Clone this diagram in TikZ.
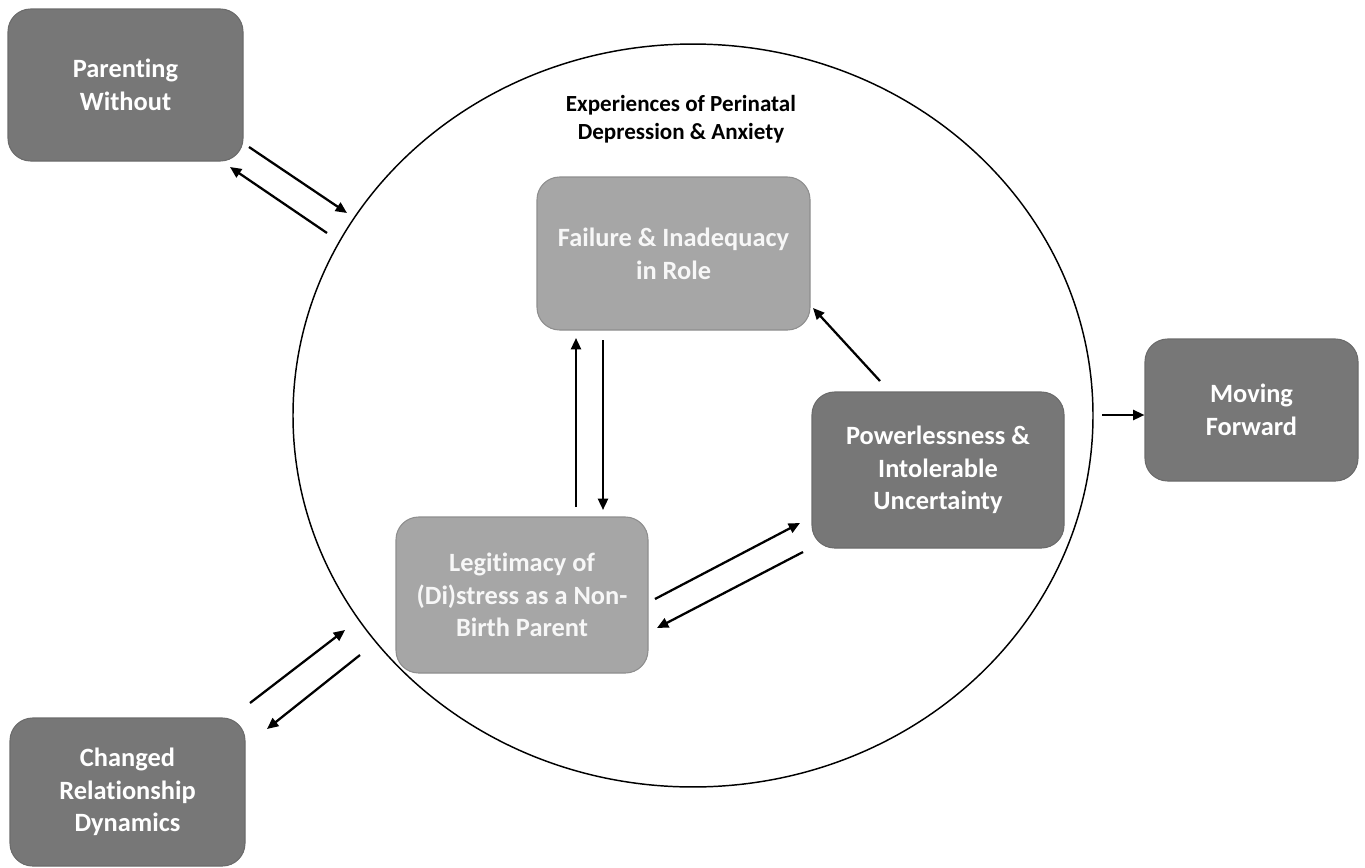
\documentclass[tikz,border=0pt]{standalone}
\usepackage{fontspec}
\setmainfont{Carlito}[Ligatures=NoCommon]
\usetikzlibrary{arrows.meta,calc}
\definecolor{dk}{HTML}{777777}
\definecolor{dkline}{HTML}{6B6B6B}
\definecolor{lt}{HTML}{A6A6A6}
\definecolor{ltline}{HTML}{8E8E8E}
\tikzset{
  basebox/.style={rounded corners=17pt, line width=0.8pt, text=white, align=center, inner sep=0pt,
    font=\bfseries\fontsize{19.8}{24.5}\selectfont},
  darkbox/.style={basebox, draw=dkline, fill=dk},
  lightbox/.style={basebox, draw=ltline, fill=lt, text=white!97!black},
  arr/.style={line width=1.7pt, -{Triangle[length=8.5pt,width=7.5pt]}},
  titletext/.style={align=center, font=\bfseries\fontsize{17.3}{21}\selectfont, text=black}
}
\begin{document}
\begin{tikzpicture}[x=0.75pt,y=-0.75pt]
\useasboundingbox (0,0) rectangle (1365,868);
% ellipse
\draw[line width=1.1pt] (693,415.5) ellipse [x radius=300pt, y radius=278.6pt];
\node[titletext] (title) at (681,119) {Experiences of Perinatal\\Depression \& Anxiety};
% boxes
\node[darkbox, minimum width=176.25pt, minimum height=114pt] (par) at (125.5,85) {Parenting\\Without};
\node[darkbox, minimum width=176.25pt, minimum height=111pt] (chg) at (127.5,792) {Changed\\Relationship\\Dynamics};
\node[darkbox, minimum width=159.75pt, minimum height=106.5pt] (mov) at (1251.5,410) {Moving\\Forward};
\node[darkbox, minimum width=189pt, minimum height=117pt] (pow) at (938,470) {Powerlessness \&\\Intolerable\\Uncertainty};
\node[lightbox, minimum width=204.75pt, minimum height=114.75pt] (fail) at (673.5,253.5) {Failure \& Inadequacy\\in Role};
\node[lightbox, minimum width=189pt, minimum height=117pt] (leg) at (522,595) {Legitimacy of\\(Di)stress as a Non-\\Birth Parent};
% connector end points
\coordinate (parout) at (249,147);
\coordinate (circin1) at (347,213);
\coordinate (circout1) at (327,233);
\coordinate (parin) at (230,167);
\coordinate (chgout) at (250,703);
\coordinate (circin2) at (345,630);
\coordinate (circout2) at (360,655);
\coordinate (chgin) at (267,729);
\coordinate (circout3) at (1102,415);
\coordinate (legup) at (576,507);
\coordinate (failupin) at (576,338);
\coordinate (faildown) at (603,340);
\coordinate (legdownin) at (603,510);
\coordinate (powout) at (880,381);
\coordinate (failin) at (813,308);
\coordinate (legout) at (655,599);
\coordinate (powin) at (800,523);
\coordinate (powout2) at (803,552);
\coordinate (legin) at (657,628);
\draw[arr] (parout) -- (circin1);
\draw[arr] (circout1) -- (parin);
\draw[arr] (chgout) -- (circin2);
\draw[arr] (circout2) -- (chgin);
\draw[arr] (circout3) -- (circout3 -| mov.west);
\draw[arr] (legup) -- (failupin);
\draw[arr] (faildown) -- (legdownin);
\draw[arr] (powout) -- (failin);
\draw[arr] (legout) -- (powin);
\draw[arr] (powout2) -- (legin);
\end{tikzpicture}
\end{document}
